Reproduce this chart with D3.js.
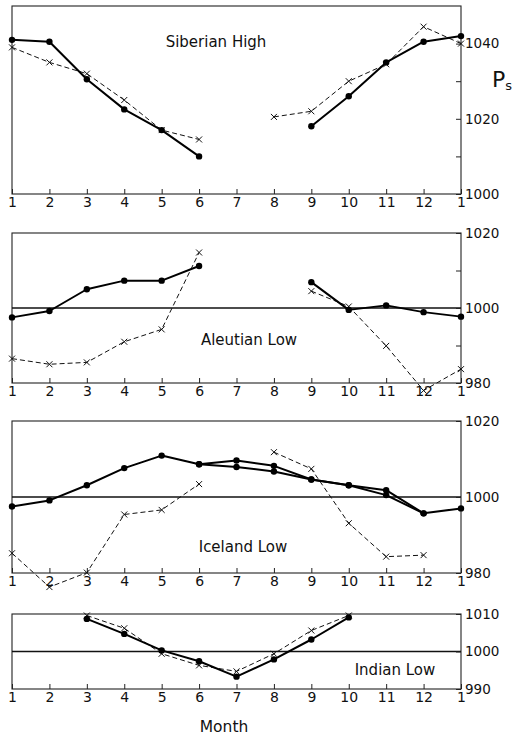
<!DOCTYPE html>
<html>
<head>
<meta charset="utf-8">
<script src="https://cdn.jsdelivr.net/npm/d3@7"></script>
<style>
  html, body { margin: 0; padding: 0; background: #fff; }
  svg { display: block; }
  text { font-family: "DejaVu Sans", sans-serif; fill: #111; }
</style>
</head>
<body>
<div id="chart"></div>
<script>
// ---- Data ----
const months = [1, 2, 3, 4, 5, 6, 7, 8, 9, 10, 11, 12, 13];
const monthLabels = ["1", "2", "3", "4", "5", "6", "7", "8", "9", "10", "11", "12", "1"];

const siberianSolid  = [1041, 1040.5, 1030.5, 1022.5, 1017, 1010, null, null, 1018, 1026, 1035, 1040.5, 1042];
const siberianDashed = [1039, 1035, 1032, 1025, 1017, 1014.5, null, 1020.5, 1022, 1030, 1034.5, 1044.5, 1040];

const aleutianSolid  = [997.5, 999.2, 1005, 1007.3, 1007.3, 1011.2, null, null, 1006.9, 999.5, 1000.7, 998.9, 997.7];
const aleutianDashed = [986.5, 985, 985.5, 991, 994.3, 1014.8, null, null, 1004.5, 1000.4, 989.9, 978, 983.7];

const icelandSolid   = [997.5, 999.1, 1003.1, 1007.6, 1010.9, 1008.6, 1009.6, 1008.2, 1004.6, 1003.1, 1001.8, 995.7, 997];
const icelandSolid2  = [null, null, null, null, null, 1008.6, 1007.9, 1006.7, 1004.6, 1003.1, 1000.5, 995.7, null];
const icelandDashed  = [985.2, 976.3, 980.1, 995.4, 996.6, 1003.4, null, 1011.8, 1007.4, 993.1, 984.3, 984.7, null];

const indianSolid    = [null, null, 1008.7, 1004.7, 1000.3, 997.4, 993.3, 997.9, 1003.2, 1009.1, null, null, null];
const indianDashed   = [null, null, 1009.6, 1006.2, 999.4, 996.3, 994.7, 999.4, 1005.6, 1009.6, null, null, null];

const panelTitles = ["Siberian High", "Aleutian Low", "Iceland Low", "Indian Low"];
const siberianTicks = [1000, 1010, 1020, 1030, 1040];
const siberianLabels = [1000, 1020, 1040];
const aleutianTicks = [980, 990, 1000, 1010, 1020];
const aleutianLabels = [980, 1000, 1020];
const icelandTicks = [980, 1000, 1020];
const icelandLabels = [980, 1000, 1020];
const indianTicks = [990, 1000, 1010];
const indianLabels = [990, 1000, 1010];

// ---- Layout ----
const W = 525, H = 738;
const svg = d3.select("#chart").append("svg").attr("width", W).attr("height", H);

const x = d3.scaleLinear().domain([1, 13]).range([12, 461]);

const panels = [
  { top: 6,   bottom: 194, domain: [1000, 1050], solid: [siberianSolid], dashed: siberianDashed,
    ticks: siberianTicks, labels: siberianLabels, baseline: null,
    title: panelTitles[0], tx: 216, ty: 42 },
  { top: 233, bottom: 383, domain: [980, 1020], solid: [aleutianSolid], dashed: aleutianDashed,
    ticks: aleutianTicks, labels: aleutianLabels, baseline: 1000,
    title: panelTitles[1], tx: 249, ty: 340 },
  { top: 421, bottom: 573, domain: [980, 1020], solid: [icelandSolid, icelandSolid2], dashed: icelandDashed,
    ticks: icelandTicks, labels: icelandLabels, baseline: 1000,
    title: panelTitles[2], tx: 243, ty: 547 },
  { top: 614, bottom: 689, domain: [990, 1010], solid: [indianSolid], dashed: indianDashed,
    ticks: indianTicks, labels: indianLabels, baseline: 1000,
    title: panelTitles[3], tx: 395, ty: 670 }
];

panels.forEach(p => {
  const y = d3.scaleLinear().domain(p.domain).range([p.bottom, p.top]);
  const g = svg.append("g");

  // frame
  g.append("rect")
    .attr("x", x(1)).attr("y", p.top)
    .attr("width", x(13) - x(1)).attr("height", p.bottom - p.top)
    .attr("fill", "none").attr("stroke", "#222").attr("stroke-width", 1.1);

  // baseline
  if (p.baseline !== null) {
    g.append("line")
      .attr("x1", x(1)).attr("x2", x(13))
      .attr("y1", y(p.baseline)).attr("y2", y(p.baseline))
      .attr("stroke", "#111").attr("stroke-width", 1.3);
  }

  // bottom axis
  const xa = g.append("g").attr("transform", `translate(0,${p.bottom})`)
    .call(d3.axisBottom(x).tickValues(months).tickSize(-5).tickPadding(3)
      .tickFormat((d, i) => monthLabels[i]));
  xa.select(".domain").remove();
  xa.selectAll(".tick line").attr("stroke", "#222");
  xa.selectAll("text").attr("font-size", 14).attr("font-family", "DejaVu Sans, sans-serif").attr("fill", "#111");

  // right axis
  const ya = g.append("g").attr("transform", `translate(${x(13)},0)`)
    .call(d3.axisRight(y).tickValues(p.ticks).tickSize(-5).tickPadding(4)
      .tickFormat(d => p.labels.includes(d) ? String(d) : ""));
  ya.select(".domain").remove();
  ya.selectAll(".tick line").attr("stroke", "#222");
  ya.selectAll("text").attr("font-size", 13.5).attr("font-family", "DejaVu Sans, sans-serif").attr("fill", "#111");

  // dashed series
  const line = d3.line().defined(d => d.v !== null).x(d => x(d.m)).y(d => y(d.v));
  const dashedData = months.map((m, i) => ({ m, v: p.dashed[i] }));
  g.append("path").datum(dashedData)
    .attr("d", line).attr("fill", "none").attr("stroke", "#111")
    .attr("stroke-width", 1).attr("stroke-dasharray", "5,3");
  const s = 3;
  g.selectAll(".xm").data(dashedData.filter(d => d.v !== null)).enter()
    .append("path")
    .attr("d", d => `M${x(d.m) - s},${y(d.v) - s}L${x(d.m) + s},${y(d.v) + s}M${x(d.m) - s},${y(d.v) + s}L${x(d.m) + s},${y(d.v) - s}`)
    .attr("stroke", "#111").attr("stroke-width", 1).attr("fill", "none");

  // solid series
  p.solid.forEach(series => {
    const sd = months.map((m, i) => ({ m, v: series[i] }));
    g.append("path").datum(sd)
      .attr("d", line).attr("fill", "none").attr("stroke", "#000")
      .attr("stroke-width", 2).attr("stroke-linejoin", "round");
    g.selectAll(null).data(sd.filter(d => d.v !== null)).enter()
      .append("circle")
      .attr("cx", d => x(d.m)).attr("cy", d => y(d.v)).attr("r", 3.2)
      .attr("fill", "#000");
  });

  // title
  g.append("text").attr("x", p.tx).attr("y", p.ty)
    .attr("text-anchor", "middle").attr("dominant-baseline", "central")
    .attr("font-size", 15).text(p.title);
});

// Ps label
const ps = svg.append("text").attr("x", 492).attr("y", 87).attr("font-size", 22);
ps.append("tspan").text("P");
ps.append("tspan").attr("font-size", 13).attr("dy", 3).text("s");

// Month label
svg.append("text").attr("x", 224).attr("y", 727)
  .attr("text-anchor", "middle").attr("dominant-baseline", "central")
  .attr("font-size", 15.5).text("Month");
</script>
</body>
</html>
